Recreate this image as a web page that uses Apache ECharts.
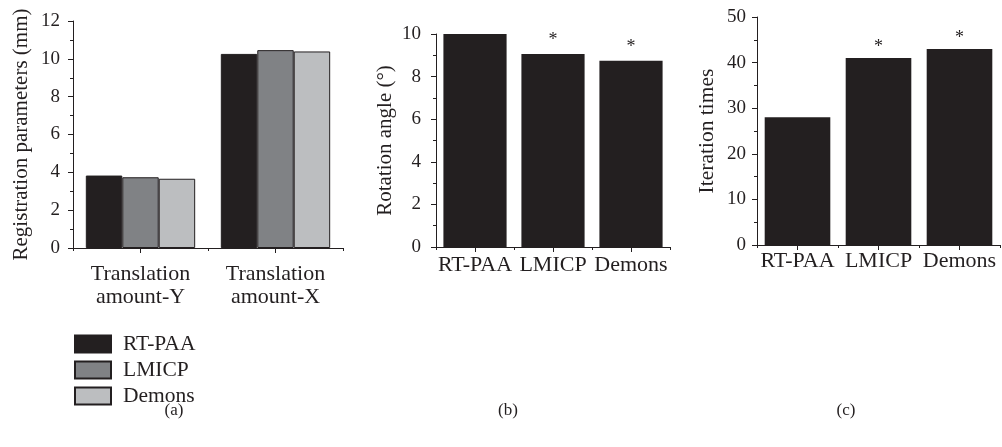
<!DOCTYPE html>
<html>
<head>
<meta charset="utf-8">
<script src="https://cdn.jsdelivr.net/npm/echarts@6/dist/echarts.min.js"></script>
<style>
  html, body { margin: 0; padding: 0; background: #fff; }
  #chart { width: 1002px; height: 447px; }
</style>
</head>
<body>
<div id="chart"></div>
<script>
// ---- data ----
const categoriesA = ['Translation\namount-Y', 'Translation\namount-X'];
const seriesNamesA = ['RT-PAA', 'LMICP', 'Demons'];
const rtpaaA = [3.83, 10.26];
const lmicpA = [3.74, 10.46];
const demonsA = [3.66, 10.39];

const methods = ['RT-PAA', 'LMICP', 'Demons'];
const rotationAngle = [10.0, 9.06, 8.74];
const iterationTimes = [28, 41, 43];
const significant = [false, true, true];

const captions = ['(a)', '(b)', '(c)'];
const yTitles = ['Registration parameters (mm)', 'Rotation angle (°)', 'Iteration times'];

// ---- style ----
const FONT = '"Liberation Serif", "DejaVu Serif", serif';
const INK = '#231f20';
const colorsA = ['#231f20', '#808285', '#bcbec0'];

const grids = [
  { left: 73, right: 659, top: 21, bottom: 199 },
  { left: 436, right: 332, top: 34, bottom: 200 },
  { left: 757, right: 2, top: 17, bottom: 202 }
];

function yAxis(gi, max, interval, name, nameGap, nameSize, margin) {
  return {
    type: 'value', gridIndex: gi, min: 0, max: max, interval: interval,
    name: name, nameLocation: 'middle', nameGap: nameGap,
    nameTextStyle: { fontFamily: FONT, fontSize: nameSize, color: INK },
    axisLine: { show: true, lineStyle: { color: INK, width: 1 } },
    axisTick: { show: true, length: 5, lineStyle: { color: INK } },
    minorTick: { show: true, splitNumber: 2, length: 3, lineStyle: { color: INK } },
    splitLine: { show: false },
    axisLabel: { fontFamily: FONT, fontSize: 19, color: INK, margin: margin }
  };
}
function xAxisMain(gi, data, fontSize, lineHeight, margin) {
  return {
    type: 'category', gridIndex: gi, data: data, position: 'bottom',
    axisLine: { show: true, lineStyle: { color: INK, width: 1 } },
    axisTick: { show: true, alignWithLabel: true, length: 5, lineStyle: { color: INK } },
    axisLabel: { fontFamily: FONT, fontSize: fontSize, color: INK, margin: margin, lineHeight: lineHeight, interval: 0 }
  };
}
function xAxisBoundary(gi, data) {
  return {
    type: 'category', gridIndex: gi, data: data, position: 'bottom',
    axisLine: { show: false },
    axisTick: { show: true, alignWithLabel: false, length: 3, lineStyle: { color: INK } },
    axisLabel: { show: false }
  };
}

const chart = echarts.init(document.getElementById('chart'), null, { renderer: 'canvas' });

const seriesA = [rtpaaA, lmicpA, demonsA].map((vals, i) => ({
  name: seriesNamesA[i], type: 'bar', xAxisIndex: 0, yAxisIndex: 0,
  data: vals, barGap: '0%', barCategoryGap: '19%',
  itemStyle: { color: colorsA[i], borderColor: INK, borderWidth: 1 },
  emphasis: { disabled: true }
}));

function starSeries(vals, xi, yi, dist) {
  return {
    type: 'bar', xAxisIndex: xi, yAxisIndex: yi, data: vals,
    barCategoryGap: '19%',
    itemStyle: { color: INK },
    emphasis: { disabled: true },
    label: {
      show: true, position: 'top', distance: dist,
      fontFamily: FONT, fontSize: 18, color: INK,
      formatter: p => significant[p.dataIndex] ? '*' : ''
    }
  };
}

const option = {
  animation: false,
  backgroundColor: '#fff',
  textStyle: { fontFamily: FONT, color: INK },
  grid: grids,
  title: captions.map((c, i) => ({
    text: c, left: [174, 508, 846][i], top: 402, padding: 0,
    textAlign: 'center',
    textStyle: { fontFamily: FONT, fontSize: 17, fontWeight: 'normal', color: INK }
  })),
  legend: {
    data: seriesNamesA, orient: 'vertical', left: 74, top: 333, padding: 0,
    itemWidth: 36, itemHeight: 17, itemGap: 4, icon: 'rect',
    selectedMode: false,
    textStyle: { fontFamily: FONT, fontSize: 21.5, lineHeight: 17, color: INK, padding: [0, 0, 0, 7] }
  },
  xAxis: [
    xAxisMain(0, categoriesA, 22, 23, 15),
    xAxisMain(1, methods, 22, 22, 7),
    xAxisMain(2, methods, 22, 22, 5),
    xAxisBoundary(0, categoriesA),
    xAxisBoundary(1, methods),
    xAxisBoundary(2, methods)
  ],
  yAxis: [
    yAxis(0, 12, 2, yTitles[0], 41, 21, 13),
    yAxis(1, 10, 2, yTitles[1], 40.5, 21, 15),
    yAxis(2, 50, 10, yTitles[2], 38.5, 21.5, 11)
  ],
  series: [
    ...seriesA,
    starSeries(rotationAngle, 1, 1, 5),
    starSeries(iterationTimes, 2, 2, 2)
  ]
};
chart.setOption(option);
</script>
</body>
</html>
